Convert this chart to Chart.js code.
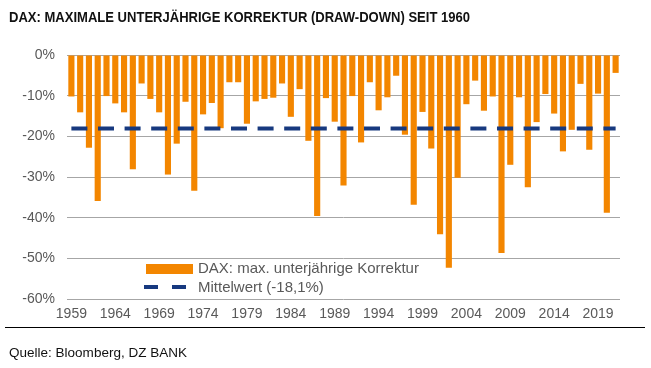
<!DOCTYPE html>
<html><head><meta charset="utf-8">
<script src="https://cdn.jsdelivr.net/npm/chart.js@4"></script>
<style>html,body{margin:0;padding:0;background:#fff;overflow:hidden}canvas{display:block}</style>
</head><body>
<canvas id="c" width="651" height="368"></canvas>
<script>
const years = ['1959','1960','1961','1962','1963','1964','1965','1966','1967','1968','1969','1970','1971','1972','1973','1974','1975','1976','1977','1978','1979','1980','1981','1982','1983','1984','1985','1986','1987','1988','1989','1990','1991','1992','1993','1994','1995','1996','1997','1998','1999','2000','2001','2002','2003','2004','2005','2006','2007','2008','2009','2010','2011','2012','2013','2014','2015','2016','2017','2018','2019','2020','2021'];
const drawdown = [-10.2,-14.1,-22.8,-35.9,-10.1,-11.9,-14.1,-28.1,-7.0,-10.8,-14.1,-29.4,-21.8,-11.5,-33.4,-14.6,-11.8,-18.0,-6.7,-6.7,-16.9,-11.4,-10.8,-10.5,-7.0,-15.2,-8.4,-21.1,-39.6,-10.6,-16.4,-32.1,-10.1,-21.5,-6.7,-13.6,-10.4,-5.1,-19.6,-36.8,-14.0,-23.0,-44.1,-52.3,-30.2,-12.1,-6.3,-13.7,-10.2,-48.7,-27.0,-10.4,-32.5,-16.5,-9.6,-14.4,-23.7,-18.4,-7.1,-23.3,-9.5,-38.8,-4.4];
const meanValue = -18.1;
const xTickLabels = ['1959','1964','1969','1974','1979','1984','1989','1994','1999','2004','2009','2014','2019'];
const yTicks = [0,-10,-20,-30,-40,-50,-60];
const seriesNames = ['DAX: max. unterjährige Korrektur','Mittelwert (-18,1%)'];
const titleText = 'DAX: MAXIMALE UNTERJÄHRIGE KORREKTUR (DRAW-DOWN) SEIT 1960';
const sourceText = 'Quelle: Bloomberg, DZ BANK';

const ORANGE = '#F38600', NAVY = '#17397F', GRID = '#A6A6A6', TXT = '#595959';
const FONT = 'Liberation Sans, Arial, sans-serif';

function fitText(ctx, text, x, y, targetW) {
  const w = ctx.measureText(text).width;
  ctx.save(); ctx.translate(x, y); ctx.scale(targetW / w, 1); ctx.fillText(text, 0, 0); ctx.restore();
}

const decor = {
  id: 'decor',
  afterDraw(chart) {
    const ctx = chart.ctx;
    ctx.save();
    ctx.fillStyle = '#111'; ctx.textBaseline = 'alphabetic'; ctx.textAlign = 'left';
    ctx.font = 'bold 15px ' + FONT;
    fitText(ctx, titleText, 9, 22, 461);
    ctx.fillStyle = '#111';
    ctx.font = '13px ' + FONT;
    fitText(ctx, sourceText, 9, 357, 178);
    ctx.strokeStyle = '#000'; ctx.lineWidth = 1;
    ctx.beginPath(); ctx.moveTo(5, 327.5); ctx.lineTo(645, 327.5); ctx.stroke();
    ctx.fillStyle = ORANGE; ctx.fillRect(146, 264, 47, 10);
    ctx.strokeStyle = NAVY; ctx.lineWidth = 4; ctx.setLineDash([14, 14]);
    ctx.beginPath(); ctx.moveTo(144, 287); ctx.lineTo(186, 287); ctx.stroke();
    ctx.setLineDash([]);
    ctx.fillStyle = TXT; ctx.font = '15px ' + FONT; ctx.textBaseline = 'middle';
    ctx.fillText(seriesNames[0], 198, 269);
    ctx.fillText(seriesNames[1], 198, 288);
    ctx.restore();
  }
};

new Chart(document.getElementById('c'), {
  data: {
    labels: years,
    datasets: [
      { type: 'bar', label: seriesNames[0], data: drawdown, backgroundColor: ORANGE,
        barPercentage: 0.7, categoryPercentage: 1.0, order: 2 },
      { type: 'line', label: seriesNames[1], data: years.map(() => meanValue), borderColor: NAVY,
        borderWidth: 4, borderDash: [16, 10.6], pointRadius: 0, fill: false, order: 1, borderCapStyle: 'butt' }
    ]
  },
  options: {
    responsive: false, animation: false,
    layout: { padding: { top: 55, right: 31, left: 0, bottom: 0 } },
    plugins: { legend: { display: false }, tooltip: { enabled: false } },
    scales: {
      x: {
        offset: true,
        grid: { display: false, drawTicks: false },
        border: { display: false },
        ticks: { autoSkip: false, maxRotation: 0, padding: 7, color: TXT, font: { family: FONT, size: 14 },
          callback: function(v, i) { const l = years[i]; return xTickLabels.includes(l) ? l : ''; } },
        afterFit(s) { s.height = 69; }
      },
      y: {
        min: -60, max: 0,
        afterBuildTicks(s) { s.ticks = yTicks.map(v => ({ value: v })); },
        ticks: { padding: 12, color: TXT, font: { family: FONT, size: 14 }, callback: v => v + '%' },
        grid: { color: GRID, drawTicks: false, lineWidth: 1 },
        border: { display: false },
        afterFit(s) { s.width = 67; }
      }
    }
  },
  plugins: [decor]
});
</script>
</body></html>
